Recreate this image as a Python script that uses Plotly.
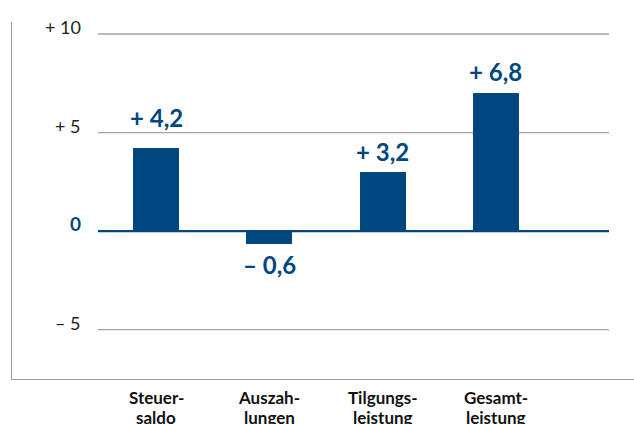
import plotly.graph_objects as go

categories = ["Steuer-<br>saldo", "Auszah-<br>lungen", "Tilgungs-<br>leistung", "Gesamt-<br>leistung"]
values = [4.2, -0.65, 3.0, 7.0]          # bar heights as drawn
value_labels = ["+ 4,2", "– 0,6", "+ 3,2", "+ 6,8"]
grid_values = [10, 5, -5]
grid_labels = ["+ 10", "+ 5", "– 5"]

BLUE = "#00467f"
W, H = 634, 424
L, R, T, B = 12, 0, 22, 45
pw = W - L - R
ph = H - T - B
xs = list(range(len(categories)))
label_offset_px = [31, 21, 20, 22]

fig = go.Figure()
fig.add_trace(go.Bar(x=xs, y=values, marker_color=BLUE, marker_line_width=0,
                     width=0.406, hoverinfo="skip"))

for x, v, t, off in zip(xs, values, value_labels, label_offset_px):
    fig.add_annotation(x=x, y=v, text=t, showarrow=False,
                       xanchor="center", yanchor="middle",
                       yshift=off if v >= 0 else -off,
                       font=dict(family="Lato", size=24, color=BLUE, weight="bold"))

# category labels: two lines, 20px apart, below the frame
line_px = [397, 417]
for x, cat in zip(xs, categories):
    for py, part in zip(line_px, cat.split("<br>")):
        fig.add_annotation(x=x, xref="x", yref="paper", y=(H - B - py) / ph, text=part,
                           showarrow=False, xanchor="center", yanchor="middle",
                           font=dict(family="Lato", size=17, color="#111111", weight="bold"))

gx0 = (98 - L) / pw
gx1 = (609 - L) / pw
lab_x = (83 - L) / pw

for gv, gl in zip(grid_values, grid_labels):
    fig.add_shape(type="line", xref="paper", yref="y", x0=gx0, x1=gx1, y0=gv, y1=gv,
                  line=dict(color="#a3a3a3", width=1.3), layer="below")
    fig.add_annotation(xref="paper", yref="y", x=lab_x, y=gv, text=gl, showarrow=False,
                       xanchor="right", yanchor="middle", yshift=7,
                       font=dict(family="Lato", size=18, color="#222222"))

fig.add_shape(type="line", xref="paper", yref="y", x0=gx0, x1=gx1, y0=0, y1=0,
              line=dict(color=BLUE, width=2.2), layer="above")
fig.add_annotation(xref="paper", yref="y", x=lab_x, y=0, text="0", showarrow=False,
                   xanchor="right", yanchor="middle", yshift=8,
                   font=dict(family="Lato", size=19, color=BLUE, weight="bold"))

fig.update_layout(
    width=W, height=H,
    margin=dict(l=L, r=R, t=T, b=B),
    paper_bgcolor="white", plot_bgcolor="white",
    showlegend=False,
    bargap=0,
    xaxis=dict(range=[-1.271, 4.218], tickvals=xs, showticklabels=False, automargin=False,
               showgrid=False, zeroline=False, showline=True, linecolor="#9a9a9a", linewidth=1.3,
               ticks="", fixedrange=True),
    yaxis=dict(range=[-7.51, 10.61], showgrid=False, zeroline=False, showticklabels=False,
               automargin=False,
               showline=True, linecolor="#9a9a9a", linewidth=1.3, ticks="", fixedrange=True),
)

fig.write_html("out.html", config={"displayModeBar": False},
               post_script="document.body.style.margin='0';document.documentElement.style.overflow='hidden';")
